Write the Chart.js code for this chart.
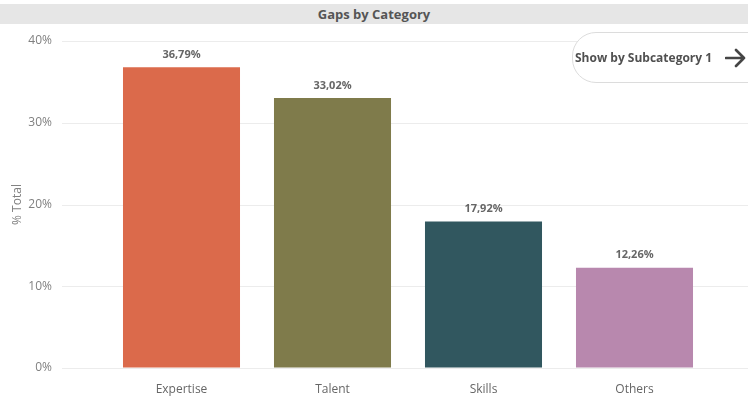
<!DOCTYPE html>
<html>
<head>
<meta charset="utf-8">
<script src="https://cdn.jsdelivr.net/npm/chart.js@4/dist/chart.umd.min.js"></script>
<style>
  html, body { margin: 0; padding: 0; background: #fff; }
  #wrap { position: relative; width: 748px; height: 399px; overflow: hidden; }
  #plot { position: absolute; left: 0; top: 0; width: 748px; height: 399px; }
  #title {
    position: absolute; left: 0; top: 4px; width: 748px; height: 20px;
    background: #e6e6e6; color: #555; font: bold 13px "Open Sans", sans-serif;
    text-align: center; line-height: 21px;
  }
  #subBtn {
    position: absolute; left: 572px; top: 32px; width: 200px; height: 51px;
    border: 1px solid #dcdcdc; border-radius: 24px; background: #fff;
    box-sizing: border-box; color: #505050; font: bold 12px "Open Sans", sans-serif;
    line-height: 49px; padding-left: 2px; white-space: nowrap;
  }
  #subBtn svg { position: absolute; left: 152px; top: 15px; }
</style>
</head>
<body>
<div id="wrap">
  <div id="plot"><canvas id="gapsChart"></canvas></div>
  <div id="title">Gaps by Category</div>
  <div id="subBtn">Show by Subcategory 1
    <svg width="22" height="20" viewBox="0 0 22 20"><path d="M1 10 H19 M11 2 L19 10 L11 18" fill="none" stroke="#454545" stroke-width="2.6" stroke-linecap="round" stroke-linejoin="round"/></svg>
  </div>
</div>
<script>
var categories = ['Expertise', 'Talent', 'Skills', 'Others'];
var totals = [36.79, 33.02, 17.92, 12.26];
var barColors = ['#db6a4b', '#7f7b4b', '#31575f', '#b888ae'];
var yTicks = [0, 10, 20, 30, 40];

function pct(v, digits) {
    return v.toFixed(digits).replace('.', ',') + '%';
}

// horizontal guides run past the plot area, out to the y labels and the right edge
var gridPlugin = {
    id: 'wideGrid',
    beforeDatasetsDraw: function(chart) {
        var ctx = chart.ctx, y = chart.scales.y;
        ctx.save();
        ctx.strokeStyle = '#ececec';
        ctx.lineWidth = 1;
        yTicks.forEach(function(t) {
            var py = Math.round(y.getPixelForValue(t)) + 0.5;
            ctx.beginPath();
            ctx.moveTo(62, py);
            ctx.lineTo(chart.width, py);
            ctx.stroke();
        });
        ctx.restore();
    }
};

// value labels above each bar
var valueLabels = {
    id: 'valueLabels',
    afterDatasetsDraw: function(chart) {
        var ctx = chart.ctx;
        var meta = chart.getDatasetMeta(0);
        ctx.save();
        ctx.font = 'bold 11px "Open Sans", sans-serif';
        ctx.fillStyle = '#666';
        ctx.textAlign = 'center';
        ctx.textBaseline = 'bottom';
        meta.data.forEach(function(bar, i) {
            ctx.fillText(pct(totals[i], 2), bar.x, bar.y - 7);
        });
        ctx.restore();
    }
};

new Chart(document.getElementById('gapsChart').getContext('2d'), {
    type: 'bar',
    data: {
        labels: categories,
        datasets: [{
            data: totals,
            backgroundColor: barColors,
            borderWidth: 0,
            categoryPercentage: 1,
            barPercentage: 0.775
        }]
    },
    options: {
        responsive: true,
        maintainAspectRatio: false,
        animation: false,
        layout: { padding: { top: 41, right: 38, left: 0, bottom: 0 } },
        plugins: {
            legend: { display: false },
            tooltip: { enabled: false }
        },
        scales: {
            x: {
                grid: { display: false, drawTicks: false },
                border: { display: false },
                ticks: {
                    color: '#666',
                    padding: 14,
                    font: { family: 'Open Sans', size: 12 }
                },
                afterFit: function(scale) { scale.height = 31; }
            },
            y: {
                min: 0,
                max: 40,
                afterBuildTicks: function(scale) {
                    scale.ticks = yTicks.map(function(v) { return { value: v }; });
                },
                // invisible tick marks push the labels out to the left
                grid: { color: 'transparent', drawTicks: true, tickLength: 54 },
                border: { display: false },
                ticks: {
                    color: '#808080',
                    padding: 0,
                    font: { family: 'Open Sans', size: 12 },
                    callback: function(v) { return v + '%'; }
                },
                title: {
                    display: true,
                    text: '% Total',
                    color: '#808080',
                    font: { family: 'Open Sans', size: 12 },
                    padding: { top: 10, bottom: 0 }
                },
                afterFit: function(scale) { scale.width = 106; }
            }
        }
    },
    plugins: [gridPlugin, valueLabels]
});
</script>
</body>
</html>
